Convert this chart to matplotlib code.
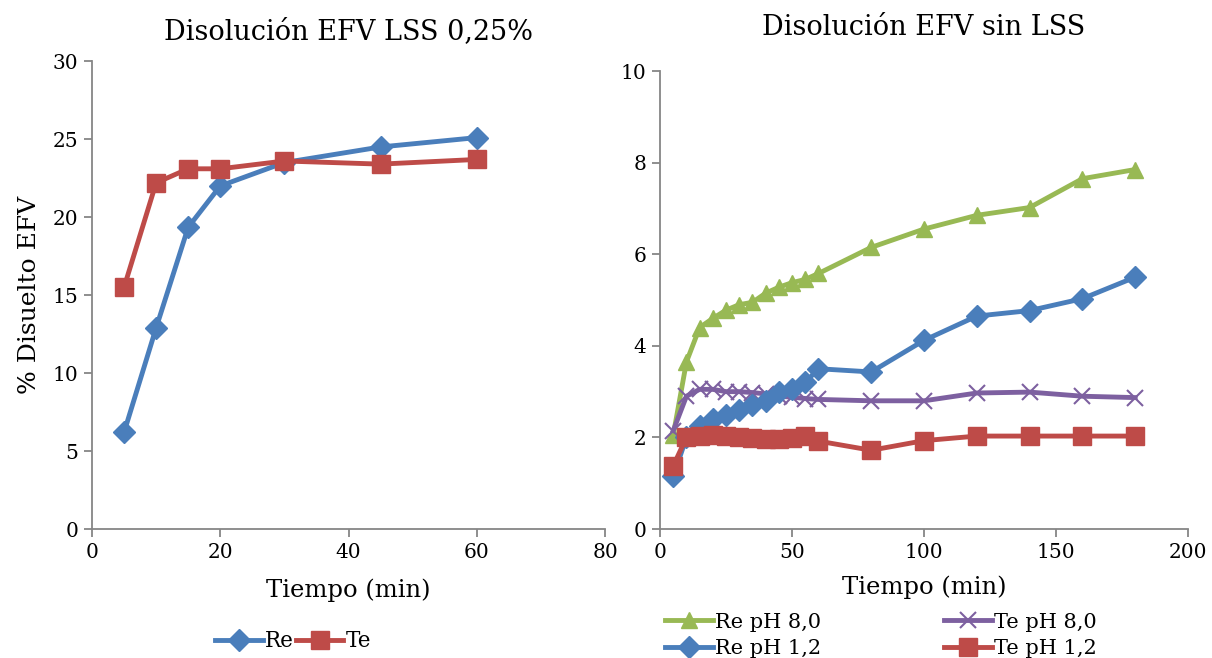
import matplotlib
matplotlib.use('Agg')
import matplotlib.pyplot as plt

plt.rcParams['font.family'] = ['DejaVu Serif']

# LSS 0,25% dissolution
t_lss = [5, 10, 15, 20, 30, 45, 60]
re_lss = [6.2, 12.9, 19.35, 22.0, 23.5, 24.5, 25.1]
te_lss = [15.5, 22.2, 23.1, 23.1, 23.6, 23.4, 23.7]

# dissolution without LSS
t_sin = [5, 10, 15, 20, 25, 30, 35, 40, 45, 50, 55, 60, 80, 100, 120, 140, 160, 180]
re_ph8 = [2.05, 3.65, 4.4, 4.6, 4.78, 4.9, 4.95, 5.15, 5.28, 5.38, 5.45, 5.58,
          6.15, 6.55, 6.85, 7.02, 7.65, 7.85]
re_ph1 = [1.15, 2.0, 2.25, 2.4, 2.5, 2.6, 2.7, 2.8, 3.0, 3.05, 3.2, 3.5,
          3.43, 4.12, 4.65, 4.77, 5.03, 5.5]
te_ph8 = [2.15, 2.9, 3.05, 3.05, 3.0, 3.0, 2.98, 2.95, 2.9, 2.88, 2.85, 2.83,
          2.8, 2.8, 2.97, 2.99, 2.9, 2.87]
te_ph1 = [1.38, 2.0, 2.03, 2.05, 2.03, 2.0, 1.98, 1.97, 1.97, 1.98, 2.03, 1.92,
          1.72, 1.93, 2.03, 2.03, 2.03, 2.03]

blue = '#4A7EBB'
red = '#BE4B48'
green = '#98B954'
purple = '#7D60A0'
grey = '#868686'

fig = plt.figure(figsize=(12.12, 6.58), dpi=100)
ax1 = fig.add_axes([0.0759, 0.196, 0.4233, 0.711])
ax2 = fig.add_axes([0.5446, 0.196, 0.4356, 0.696])

lw = 3.5
ax1.plot(t_lss, re_lss, color=blue, lw=lw, marker='D', ms=11.5, label='Re')
ax1.plot(t_lss, te_lss, color=red, lw=lw, marker='s', ms=13.5, label='Te')
ax1.set_xlim(0, 80)
ax1.set_ylim(0, 30)
ax1.set_xticks(range(0, 81, 20))
ax1.set_yticks(range(0, 31, 5))
ax1.set_title('Disolución EFV LSS 0,25%', fontsize=19.5, pad=16)
ax1.set_xlabel('Tiempo (min)', fontsize=17.5, labelpad=12)
ax1.set_ylabel('% Disuelto EFV', fontsize=18, labelpad=8)
ax1.legend(loc='upper center', bbox_to_anchor=(0.392, -0.175), ncol=2, frameon=False,
           fontsize=15.5, handlelength=2.2, columnspacing=0.1, handletextpad=0.1)

ax2.plot(t_sin, re_ph8, color=green, lw=lw, marker='^', ms=12, label='Re pH 8,0')
ax2.plot(t_sin, te_ph8, color=purple, lw=lw, marker='x', ms=12, mew=1.5, label='Te pH 8,0')
ax2.plot(t_sin, re_ph1, color=blue, lw=lw, marker='D', ms=11.5, label='Re pH 1,2')
ax2.plot(t_sin, te_ph1, color=red, lw=lw, marker='s', ms=13.5, label='Te pH 1,2')
ax2.set_xlim(0, 200)
ax2.set_ylim(0, 10)
ax2.set_xticks(range(0, 201, 50))
ax2.set_yticks(range(0, 11, 2))
ax2.set_title('Disolución EFV sin LSS', fontsize=19.5, pad=26)
ax2.set_xlabel('Tiempo (min)', fontsize=17.5, labelpad=10)
h, l = ax2.get_legend_handles_labels()
ax2.legend([h[0], h[2], h[1], h[3]], [l[0], l[2], l[1], l[3]],
           loc='upper center', bbox_to_anchor=(0.419, -0.1415), ncol=2, frameon=False,
           fontsize=15, handlelength=2.3, columnspacing=5.9, handletextpad=0.1,
           labelspacing=0.35)

for ax in (ax1, ax2):
    for s in ('top', 'right'):
        ax.spines[s].set_visible(False)
    for s in ('left', 'bottom'):
        ax.spines[s].set_color(grey)
        ax.spines[s].set_linewidth(1.3)
    ax.tick_params(direction='out', length=6, width=1.3, color=grey,
                   labelsize=14.5, pad=4)

fig.savefig('out.png', dpi=100)
